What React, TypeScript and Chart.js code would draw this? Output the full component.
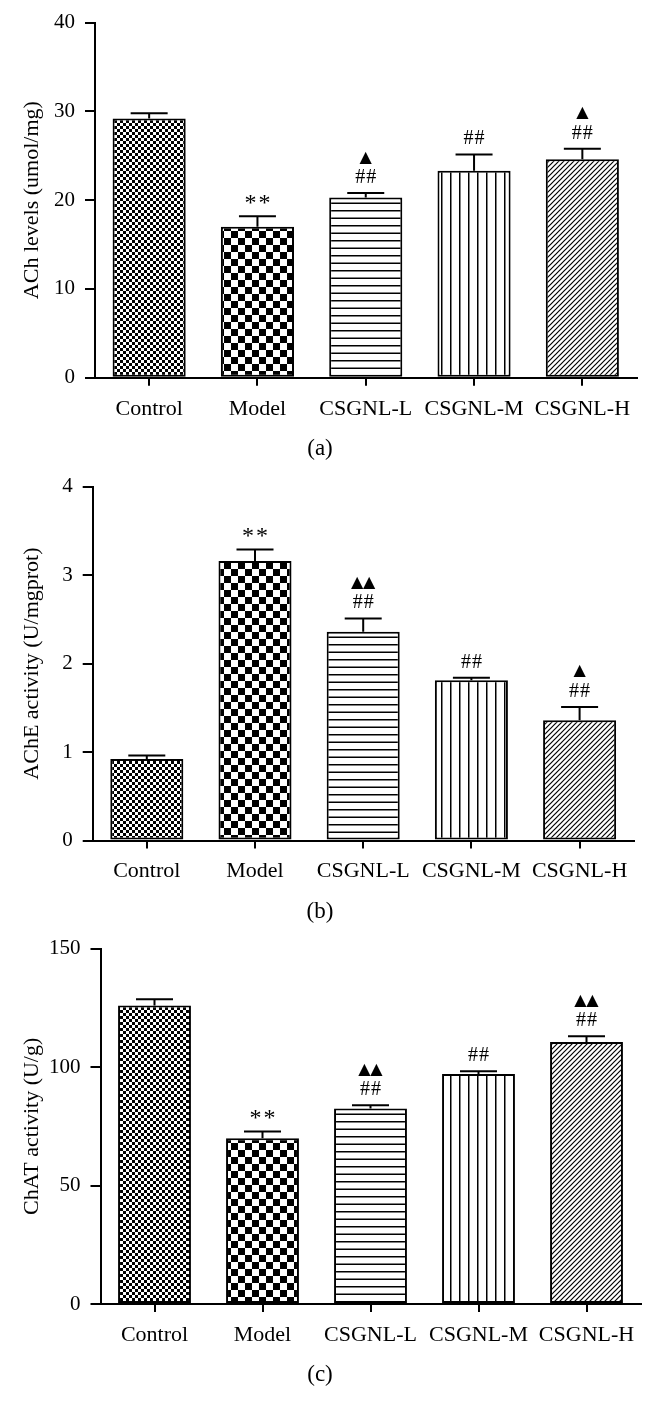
import React, { useEffect, useRef } from 'react';
import { Chart, registerables } from 'chart.js';

Chart.register(...registerables);

// ---------- data ----------
const categories = ['Control', 'Model', 'CSGNL-L', 'CSGNL-M', 'CSGNL-H'];

const achMeans = [29.2, 17.0, 20.3, 23.3, 24.6];
const achErrors = [0.6, 1.2, 0.5, 1.85, 1.2];
const achNear = ['', '**', '##', '##', '##'];
const achFar = ['', '', '▲', '', '▲'];
const achTicks = [0, 10, 20, 30, 40];

const acheMeans = [0.92, 3.16, 2.36, 1.81, 1.36];
const acheErrors = [0.04, 0.13, 0.15, 0.03, 0.15];
const acheNear = ['', '**', '##', '##', '##'];
const acheFar = ['', '', '▲▲', '', '▲'];
const acheTicks = [0, 1, 2, 3, 4];

const chatMeans = [126.0, 70.0, 82.5, 97.1, 110.6];
const chatErrors = [2.6, 2.8, 1.4, 1.1, 2.4];
const chatNear = ['', '**', '##', '##', '##'];
const chatFar = ['', '', '▲▲', '', '▲▲'];
const chatTicks = [0, 50, 100, 150];

// ---------- layout ----------
const W = 655;
const CANVAS_H = 440;
const SERIF = '"Liberation Serif", "Times New Roman", serif';

interface PanelSpec {
  canvasTop: number;
  areaTop: number;
  areaLeft: number;
  areaRight: number;
  areaBottom: number;
  ticks: number[];
  title: string;
  means: number[];
  errors: number[];
  near: string[];
  far: string[];
  caption: string;
}

const panels: PanelSpec[] = [
  {
    canvasTop: 0, areaTop: 20, areaLeft: 95, areaRight: 636.5, areaBottom: 377.7,
    ticks: achTicks, title: 'ACh levels (umol/mg)', means: achMeans, errors: achErrors,
    near: achNear, far: achFar, caption: '(a)',
  },
  {
    canvasTop: 464, areaTop: 484, areaLeft: 92.7, areaRight: 633.7, areaBottom: 840.5,
    ticks: acheTicks, title: 'AChE activity (U/mgprot)', means: acheMeans, errors: acheErrors,
    near: acheNear, far: acheFar, caption: '(b)',
  },
  {
    canvasTop: 926, areaTop: 946, areaLeft: 100.5, areaRight: 640.5, areaBottom: 1304,
    ticks: chatTicks, title: 'ChAT activity (U/g)', means: chatMeans, errors: chatErrors,
    near: chatNear, far: chatFar, caption: '(c)',
  },
];

// ---------- patterns ----------
function tile(w: number, h: number, draw: (c: CanvasRenderingContext2D) => void): CanvasPattern {
  const cv = document.createElement('canvas');
  cv.width = w;
  cv.height = h;
  const c = cv.getContext('2d')!;
  c.fillStyle = '#fff';
  c.fillRect(0, 0, w, h);
  c.fillStyle = '#000';
  c.strokeStyle = '#000';
  draw(c);
  return c.createPattern(cv, 'repeat')!;
}

function makePatterns(): CanvasPattern[] {
  const fineChecker = tile(6, 6, (c) => {
    c.fillRect(0, 0, 3, 3);
    c.fillRect(3, 3, 3, 3);
  });
  const bigChecker = tile(14, 14, (c) => {
    c.fillRect(0, 0, 7, 7);
    c.fillRect(7, 7, 7, 7);
  });
  const horiz = tile(4, 15, (c) => {
    c.fillRect(0, 0, 4, 1.5);
    c.fillRect(0, 7.5, 4, 1.5);
  });
  const vert = tile(9, 4, (c) => {
    c.fillRect(0, 0, 1.5, 4);
  });
  const diag = tile(5, 5, (c) => {
    c.lineWidth = 1.2;
    c.beginPath();
    c.moveTo(-1, 6);
    c.lineTo(6, -1);
    c.moveTo(-1, 1);
    c.lineTo(1, -1);
    c.moveTo(4, 6);
    c.lineTo(6, 4);
    c.stroke();
  });
  return [fineChecker, bigChecker, horiz, vert, diag];
}

// draw a mark string glyph by glyph, each glyph centered (box) at its slot
function drawMarks(ctx: CanvasRenderingContext2D, text: string, x: number, y: number) {
  if (!text) return;
  const chars = Array.from(text);
  let font = '20px ' + SERIF;
  let gap = 11;
  if (chars[0] === '*') {
    font = '24px ' + SERIF;
    gap = 14;
  } else if (chars[0] === '▲') {
    font = '16px "DejaVu Sans", sans-serif';
    gap = 12;
  }
  ctx.font = font;
  ctx.textAlign = 'center';
  ctx.textBaseline = 'alphabetic';
  const n = chars.length;
  chars.forEach((ch, k) => {
    const cx = x + (k - (n - 1) / 2) * gap;
    const m = ctx.measureText(ch);
    const base = y + (m.actualBoundingBoxAscent - m.actualBoundingBoxDescent) / 2;
    ctx.fillText(ch, cx, base);
  });
}

function BarPanel({ spec }: { spec: PanelSpec }) {
  const ref = useRef<HTMLCanvasElement | null>(null);

  useEffect(() => {
    const canvas = ref.current;
    if (!canvas) return;
    const patterns = makePatterns();
    const relBottom = spec.areaBottom - spec.canvasTop;
    const relTop = spec.areaTop - spec.canvasTop;
    const xAxisH = CANVAS_H - relBottom;
    const yMax = spec.ticks[spec.ticks.length - 1];
    const step = spec.ticks[1] - spec.ticks[0];

    const errorPlugin = {
      id: 'errorBarsAndMarks',
      afterDatasetsDraw(chart: any) {
        const ctx: CanvasRenderingContext2D = chart.ctx;
        const meta = chart.getDatasetMeta(0);
        const ys = chart.scales.y;
        ctx.save();
        ctx.strokeStyle = '#000';
        ctx.fillStyle = '#000';
        ctx.lineWidth = 2;
        meta.data.forEach((el: any, i: number) => {
          const x = el.x;
          const top = el.y;
          const cap = ys.getPixelForValue(spec.means[i] + spec.errors[i]);
          ctx.beginPath();
          ctx.moveTo(x, top);
          ctx.lineTo(x, cap);
          ctx.moveTo(x - 18.5, cap);
          ctx.lineTo(x + 18.5, cap);
          ctx.stroke();
          drawMarks(ctx, spec.near[i], x, cap - 17);
          drawMarks(ctx, spec.far[i], x, cap - 36);
        });
        ctx.restore();
      },
    };

    const chart = new Chart(canvas, {
      type: 'bar',
      data: {
        labels: categories,
        datasets: [
          {
            data: spec.means,
            backgroundColor: patterns as any,
            borderColor: '#000',
            borderWidth: 2,
            borderSkipped: false,
            barPercentage: 0.675,
            categoryPercentage: 1,
          },
        ],
      },
      options: {
        responsive: false,
        animation: false,
        events: [],
        layout: { padding: { top: relTop, right: W - spec.areaRight, left: 0, bottom: 0 } },
        plugins: { legend: { display: false }, tooltip: { enabled: false } },
        scales: {
          x: {
            type: 'category',
            offset: true,
            border: { display: true, color: '#000', width: 2 },
            grid: {
              display: true,
              drawOnChartArea: false,
              drawTicks: true,
              tickLength: 8,
              tickWidth: 2,
              tickColor: '#000',
              offset: false,
              color: '#000',
              lineWidth: 2,
            },
            ticks: {
              color: '#000',
              font: { family: SERIF, size: 22 },
              padding: 10,
              maxRotation: 0,
              minRotation: 0,
              autoSkip: false,
            },
            afterFit: (axis: any) => {
              axis.height = xAxisH;
            },
          },
          y: {
            type: 'linear',
            min: 0,
            max: yMax,
            border: { display: true, color: '#000', width: 2 },
            grid: {
              display: true,
              drawOnChartArea: false,
              drawTicks: true,
              tickLength: 10,
              tickWidth: 2,
              tickColor: '#000',
              color: '#000',
              lineWidth: 2,
            },
            ticks: {
              stepSize: step,
              color: '#000',
              font: { family: SERIF, size: 21 },
              padding: 10,
            },
            title: {
              display: true,
              text: spec.title,
              color: '#000',
              font: { family: SERIF, size: 22 },
              padding: { top: 19, bottom: 0 },
            },
            afterFit: (axis: any) => {
              axis.width = spec.areaLeft;
            },
          },
        },
      },
      plugins: [errorPlugin],
    });

    return () => chart.destroy();
  }, [spec]);

  return (
    <>
      <canvas
        ref={ref}
        width={W}
        height={CANVAS_H}
        style={{ position: 'absolute', left: 0, top: spec.canvasTop, width: W, height: CANVAS_H, display: 'block' }}
      />
      <div
        style={{
          position: 'absolute',
          left: 0,
          width: 640,
          top: spec.areaBottom + 70 - 13,
          height: 26,
          lineHeight: '26px',
          textAlign: 'center',
          fontFamily: SERIF,
          fontSize: 23,
          color: '#000',
        }}
      >
        {spec.caption}
      </div>
    </>
  );
}

export default function App() {
  return (
    <div
      style={{
        position: 'absolute',
        left: 0,
        top: 0,
        width: W,
        height: 1414,
        background: '#fff',
        overflow: 'hidden',
      }}
    >
      {panels.map((p) => (
        <BarPanel key={p.caption} spec={p} />
      ))}
    </div>
  );
}
